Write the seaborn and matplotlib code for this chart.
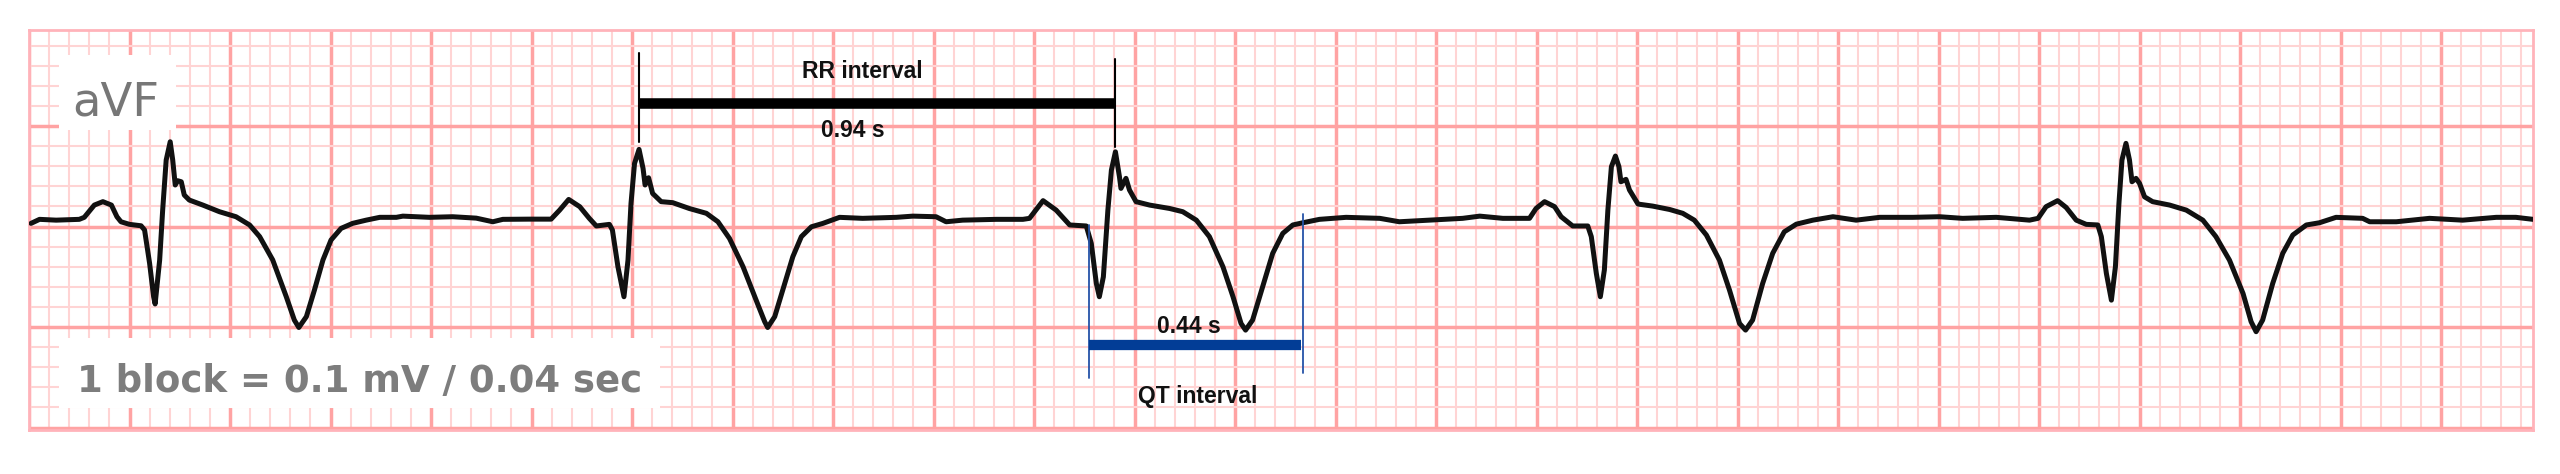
import numpy as np
import pandas as pd
import matplotlib
matplotlib.use("Agg")
import matplotlib.pyplot as plt
from matplotlib.patches import Rectangle
from matplotlib.ticker import MultipleLocator
import seaborn as sns

# ECG lead aVF, time in seconds, amplitude in mV
t_beat1 = [0.004, 0.021, 0.054, 0.100, 0.110, 0.130, 0.147, 0.164, 0.175, 0.183, 0.200, 0.223,
           0.230, 0.240, 0.248, 0.251, 0.260, 0.266, 0.273, 0.281, 0.286, 0.291, 0.296, 0.303,
           0.309, 0.319, 0.346, 0.379, 0.412, 0.439, 0.459, 0.485, 0.512, 0.528, 0.537, 0.552,
           0.568, 0.585, 0.601, 0.621, 0.644, 0.671, 0.698, 0.731, 0.744, 0.797, 0.843, 0.890,
           0.923, 0.943]
mv_beat1 = [0.016, 0.036, 0.032, 0.036, 0.046, 0.107, 0.124, 0.107, 0.049, 0.024, 0.011, 0.004,
            -0.017, -0.183, -0.349, -0.385, -0.167, 0.082, 0.331, 0.422, 0.331, 0.207, 0.228, 0.223,
            0.157, 0.132, 0.107, 0.074, 0.049, 0.008, -0.050, -0.166, -0.349, -0.465, -0.502, -0.448,
            -0.316, -0.166, -0.067, -0.009, 0.016, 0.032, 0.046, 0.046, 0.052, 0.046, 0.049, 0.042,
            0.024, 0.036]

t_beat2 = [0.996, 1.039, 1.056, 1.074, 1.096, 1.115, 1.129, 1.155, 1.161, 1.172, 1.184, 1.192,
           1.198, 1.205, 1.214, 1.222, 1.226, 1.233, 1.241, 1.258, 1.281, 1.314, 1.348, 1.371,
           1.394, 1.421, 1.447, 1.464, 1.470, 1.484, 1.500, 1.520, 1.537, 1.557, 1.580, 1.613,
           1.659, 1.726, 1.759, 1.805, 1.825, 1.858, 1.925, 1.978]
mv_beat2 = [0.037, 0.037, 0.082, 0.135, 0.099, 0.041, 0.003, 0.011, -0.017, -0.200, -0.349, -0.167,
            0.115, 0.314, 0.384, 0.289, 0.207, 0.243, 0.165, 0.124, 0.119, 0.090, 0.066, 0.024,
            -0.059, -0.200, -0.366, -0.473, -0.502, -0.448, -0.316, -0.150, -0.050, -0.001, 0.016, 0.046,
            0.041, 0.046, 0.052, 0.049, 0.024, 0.032, 0.036, 0.036]

t_beat3 = [1.991, 2.018, 2.044, 2.071, 2.104, 2.114, 2.124, 2.130, 2.138, 2.147, 2.154, 2.162,
           2.170, 2.173, 2.183, 2.190, 2.203, 2.230, 2.270, 2.296, 2.323, 2.349, 2.376, 2.396,
           2.412, 2.421, 2.435, 2.455, 2.475, 2.495, 2.515, 2.535, 2.568, 2.621, 2.688, 2.727,
           2.787, 2.853, 2.887, 2.933]
mv_beat3 = [0.041, 0.129, 0.082, 0.008, 0.003, -0.084, -0.283, -0.349, -0.250, 0.082, 0.281, 0.372,
            0.248, 0.190, 0.240, 0.182, 0.124, 0.107, 0.090, 0.074, 0.032, -0.050, -0.200, -0.349,
            -0.482, -0.515, -0.465, -0.299, -0.133, -0.034, 0.008, 0.019, 0.036, 0.046, 0.041, 0.024,
            0.032, 0.041, 0.052, 0.041]

t_beat4 = [2.986, 2.999, 3.016, 3.036, 3.049, 3.072, 3.102, 3.109, 3.119, 3.127, 3.135, 3.142,
           3.149, 3.157, 3.164, 3.168, 3.178, 3.185, 3.202, 3.231, 3.265, 3.291, 3.314, 3.338,
           3.364, 3.384, 3.404, 3.416, 3.430, 3.450, 3.470, 3.493, 3.517, 3.550, 3.590, 3.636,
           3.683, 3.749, 3.802, 3.848, 3.915]
mv_beat4 = [0.041, 0.090, 0.124, 0.099, 0.049, 0.003, 0.003, -0.050, -0.233, -0.349, -0.216, 0.082,
            0.298, 0.351, 0.298, 0.223, 0.235, 0.182, 0.112, 0.102, 0.085, 0.066, 0.032, -0.042,
            -0.167, -0.316, -0.482, -0.515, -0.465, -0.283, -0.133, -0.026, 0.012, 0.032, 0.049, 0.032,
            0.046, 0.046, 0.049, 0.041, 0.046]

t_beat5 = [3.981, 3.998, 4.014, 4.037, 4.054, 4.074, 4.094, 4.117, 4.124, 4.134, 4.144, 4.152,
           4.159, 4.165, 4.173, 4.180, 4.185, 4.193, 4.200, 4.210, 4.226, 4.260, 4.293, 4.326,
           4.352, 4.379, 4.406, 4.422, 4.432, 4.445, 4.465, 4.485, 4.505, 4.532, 4.558, 4.591,
           4.644, 4.658, 4.711, 4.777, 4.843, 4.910, 4.949, 4.983]
mv_beat5 = [0.032, 0.041, 0.099, 0.129, 0.095, 0.032, 0.011, 0.008, -0.050, -0.233, -0.366, -0.200,
            0.115, 0.331, 0.414, 0.331, 0.223, 0.240, 0.215, 0.148, 0.124, 0.107, 0.082, 0.032,
            -0.050, -0.167, -0.333, -0.473, -0.523, -0.465, -0.283, -0.133, -0.042, 0.008, 0.019, 0.046,
            0.041, 0.024, 0.024, 0.041, 0.032, 0.046, 0.046, 0.036]

# interval markers
rr_times = [1.213, 2.162]      # R peak to R peak
rr_label = "RR interval"
rr_value = "0.94 s"
qt_times = [2.109, 2.536]      # Q onset to T end
qt_label = "QT interval"
qt_value = "0.44 s"
lead_name = "aVF"
scale_note = "1 block = 0.1 mV / 0.04 sec"

ecg = pd.DataFrame({
    "t": t_beat1 + t_beat2 + t_beat3 + t_beat4 + t_beat5,
    "mv": mv_beat1 + mv_beat2 + mv_beat3 + mv_beat4 + mv_beat5,
})

sns.set_style("white")
plt.rcParams["font.family"] = ["DejaVu Sans"]

W, H = 2560, 474
fig = plt.figure(figsize=(W / 100, H / 100), dpi=100)
fig.patch.set_facecolor("white")
# frame of the strip in pixels: x 29..2533, y 30..430
ax = fig.add_axes([29 / W, 1 - 430 / H, 2504 / W, 400 / H])
ax.set_xlim(0, 4.983)
ax.set_ylim(-1.012, 0.978)

# ECG paper grid
ax.xaxis.set_major_locator(MultipleLocator(0.2))
ax.xaxis.set_minor_locator(MultipleLocator(0.04))
ax.yaxis.set_major_locator(MultipleLocator(0.5))
ax.yaxis.set_minor_locator(MultipleLocator(0.1))
ax.set_axisbelow(True)
ax.grid(which="minor", color="#ffd4d4", lw=1.5)
ax.grid(which="major", color="#ffa3a3", lw=2.5)
ax.tick_params(which="both", length=0, labelbottom=False, labelleft=False)
for s in ax.spines.values():
    s.set_color("#ffb3ba")
    s.set_linewidth(2)

# white label boxes hiding the grid
ax.add_patch(Rectangle((0.059, 0.480), 0.233, 0.373, facecolor="white", edgecolor="none", zorder=1))
ax.add_patch(Rectangle((0.059, -0.903), 1.196, 0.348, facecolor="white", edgecolor="none", zorder=1))

# trace
sns.lineplot(data=ecg, x="t", y="mv", sort=False, estimator=None, color="#111111",
             lw=3.6, ax=ax, zorder=3)
ax.lines[-1].set_solid_joinstyle("round")
ax.lines[-1].set_solid_capstyle("round")
ax.set_xlabel("")
ax.set_ylabel("")

# lead name and scale note
ax.text(0.086, 0.551, lead_name, fontsize=33.5, color="#777777", va="baseline", ha="left", zorder=4)
ax.text(0.095, -0.823, scale_note, fontsize=26.7, fontweight="bold", color="#7d7d7d",
        va="baseline", ha="left", zorder=4)

# RR interval bracket
ax.plot([rr_times[0], rr_times[0]], [0.422, 0.863], color="black", lw=1.5, zorder=4)
ax.plot([rr_times[1], rr_times[1]], [0.396, 0.833], color="black", lw=1.5, zorder=4)
ax.plot(rr_times, [0.617, 0.617], color="black", lw=7.6, solid_capstyle="butt", zorder=4)
ax.text(1.659, 0.737, rr_label, fontsize=16.5, fontweight="bold", family=["Liberation Sans"],
        color="#111111", ha="center", va="baseline", zorder=5)
ax.text(1.639, 0.447, rr_value, fontsize=16.5, fontweight="bold", family=["Liberation Sans"],
        color="#111111", ha="center", va="baseline", zorder=5)

# QT interval bracket
ax.plot([qt_times[0], qt_times[0]], [-0.754, 0.007], color="#2553a8", lw=1.3, zorder=4)
ax.plot([qt_times[1], qt_times[1]], [-0.729, 0.062], color="#2553a8", lw=1.3, zorder=4)
ax.plot([qt_times[0], qt_times[1] - 0.004], [-0.590, -0.590], color="#023d96", lw=7.4,
        solid_capstyle="butt", zorder=4)
ax.text(2.308, -0.528, qt_value, fontsize=16.5, fontweight="bold", family=["Liberation Sans"],
        color="#111111", ha="center", va="baseline", zorder=5)
ax.text(2.325, -0.880, qt_label, fontsize=16.5, fontweight="bold", family=["Liberation Sans"],
        color="#111111", ha="center", va="baseline", zorder=5)

fig.savefig("out.png", dpi=100, facecolor="white")
